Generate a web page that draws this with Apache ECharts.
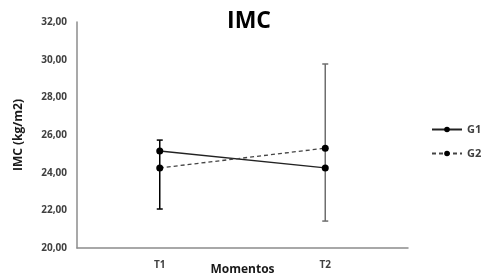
<!DOCTYPE html>
<html>
<head>
<meta charset="utf-8">
<title>IMC</title>
<script src="https://cdn.jsdelivr.net/npm/echarts@6/dist/echarts.min.js"></script>
</head>
<body style="margin:0">
<div id="main" style="width:481px;height:275px;"></div>
<script type="text/javascript">
var categories = ['T1', 'T2'];
var g1 = [25.15, 24.25];
var g2 = [24.25, 25.30];
// error bar range per moment: [low, high]
var errLow = [22.07, 21.43];
var errHigh = [25.73, 29.77];
var errColor = ['#000000', '#6e6e6e'];

var font = 'Open Sans';
var chart = echarts.init(document.getElementById('main'));

var errData = categories.map(function (c, i) {
    return [i, errLow[i], errHigh[i]];
});

chart.setOption({
    animation: false,
    textStyle: {fontFamily: font},
    title: {
        text: 'IMC', left: 244, top: 5, textAlign: 'center',
        textStyle: {fontSize: 23, fontWeight: 'bold', color: '#000', fontFamily: font}
    },
    legend: {
        orient: 'vertical', left: 431, top: 124, itemGap: 13, padding: 0,
        itemWidth: 30, itemHeight: 7,
        data: ['G1', 'G2'],
        textStyle: {fontSize: 11, fontWeight: 'bold', color: '#404040', fontFamily: font, overflow: 'none'}
    },
    grid: {left: 77, right: 73, top: 22, bottom: 27, outerBoundsMode: 'none'},
    xAxis: {
        type: 'category', data: categories,
        name: 'Momentos', nameLocation: 'middle', nameGap: 16, nameMoveOverlap: false,
        nameTextStyle: {fontSize: 12, fontWeight: 'bold', color: '#1a1a1a'},
        axisLine: {lineStyle: {color: '#8c8c8c', width: 1.5}},
        axisTick: {show: false},
        axisLabel: {margin: 12, fontSize: 10, fontWeight: 'bold', color: '#404040'}
    },
    yAxis: {
        type: 'value', min: 20, max: 32, interval: 2,
        name: 'IMC (kg/m2)', nameLocation: 'middle', nameGap: 52, nameRotate: 90, nameMoveOverlap: false,
        nameTextStyle: {fontSize: 12, fontWeight: 'bold', color: '#1a1a1a'},
        axisLine: {show: true, lineStyle: {color: '#8c8c8c', width: 1.5}},
        axisTick: {show: false},
        splitLine: {show: false},
        axisLabel: {
            margin: 10, fontSize: 10, fontWeight: 'bold', color: '#404040',
            formatter: function (v) { return v.toFixed(2).replace('.', ','); }
        }
    },
    series: [
        {
            type: 'custom', name: 'err', silent: true, z: 1,
            data: errData,
            renderItem: function (params, api) {
                var i = api.value(0);
                var lo = api.coord([i, api.value(1)]);
                var hi = api.coord([i, api.value(2)]);
                var style = {stroke: errColor[i], lineWidth: 1.5};
                return {
                    type: 'group',
                    children: [
                        {type: 'line', shape: {x1: lo[0], y1: lo[1], x2: hi[0], y2: hi[1]}, style: style},
                        {type: 'line', shape: {x1: lo[0] - 3, y1: lo[1], x2: lo[0] + 3, y2: lo[1]}, style: style},
                        {type: 'line', shape: {x1: hi[0] - 3, y1: hi[1], x2: hi[0] + 3, y2: hi[1]}, style: style}
                    ]
                };
            }
        },
        {
            name: 'G1', type: 'line', data: g1, z: 3,
            symbol: 'circle', symbolSize: 7,
            itemStyle: {color: '#000'},
            lineStyle: {color: '#222', width: 1.3}
        },
        {
            name: 'G2', type: 'line', data: g2, z: 3,
            symbol: 'circle', symbolSize: 7,
            itemStyle: {color: '#000'},
            lineStyle: {color: '#444', width: 1.3, type: [4, 3]}
        }
    ]
});
</script>
</body>
</html>
